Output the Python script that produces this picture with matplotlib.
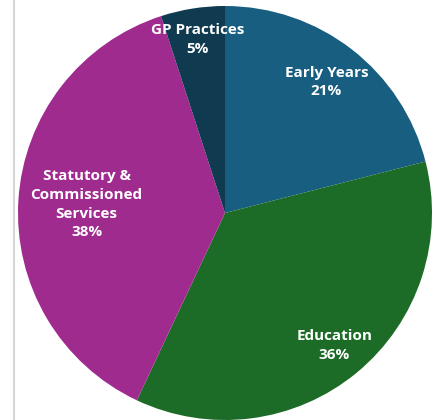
import numpy as np
import matplotlib.pyplot as plt
from matplotlib.lines import Line2D

labels = ["Early Years", "Education", "Statutory &\nCommissioned\nServices", "GP Practices"]
shares = [21, 36, 38, 5]
colors = ["#175e80", "#1c6b26", "#a02b8f", "#0f3a50"]
label_r = [0.80, 0.83, 0.67, 0.85]

plt.rcParams['font.family'] = ['Open Sans', 'DejaVu Sans']

fig = plt.figure(figsize=(4.33, 4.2), dpi=100)
ax = fig.add_axes([0, 0, 1, 1])

cx, cy, r = 225, 207, 207
wedges, _ = ax.pie(shares, colors=colors, startangle=90, counterclock=False,
                   center=(cx, cy), radius=r, frame=True,
                   wedgeprops=dict(linewidth=0))
ax.set_xlim(0, 433)
ax.set_ylim(0, 420)
ax.set_aspect('equal')
ax.axis('off')

for w, lab, val, f in zip(wedges, labels, shares, label_r):
    ang = np.deg2rad((w.theta1 + w.theta2) / 2)
    x = cx + f * r * np.cos(ang)
    y = cy + f * r * np.sin(ang)
    ax.text(x, y, f"{lab}\n{val}%", ha='center', va='center', color='white',
            fontsize=11, fontweight='bold', linespacing=1.42)

fig.add_artist(Line2D([13.5 / 433, 13.5 / 433], [0, 1], color='#d6d6d6', lw=1.5))

fig.savefig("out.png", dpi=100)
